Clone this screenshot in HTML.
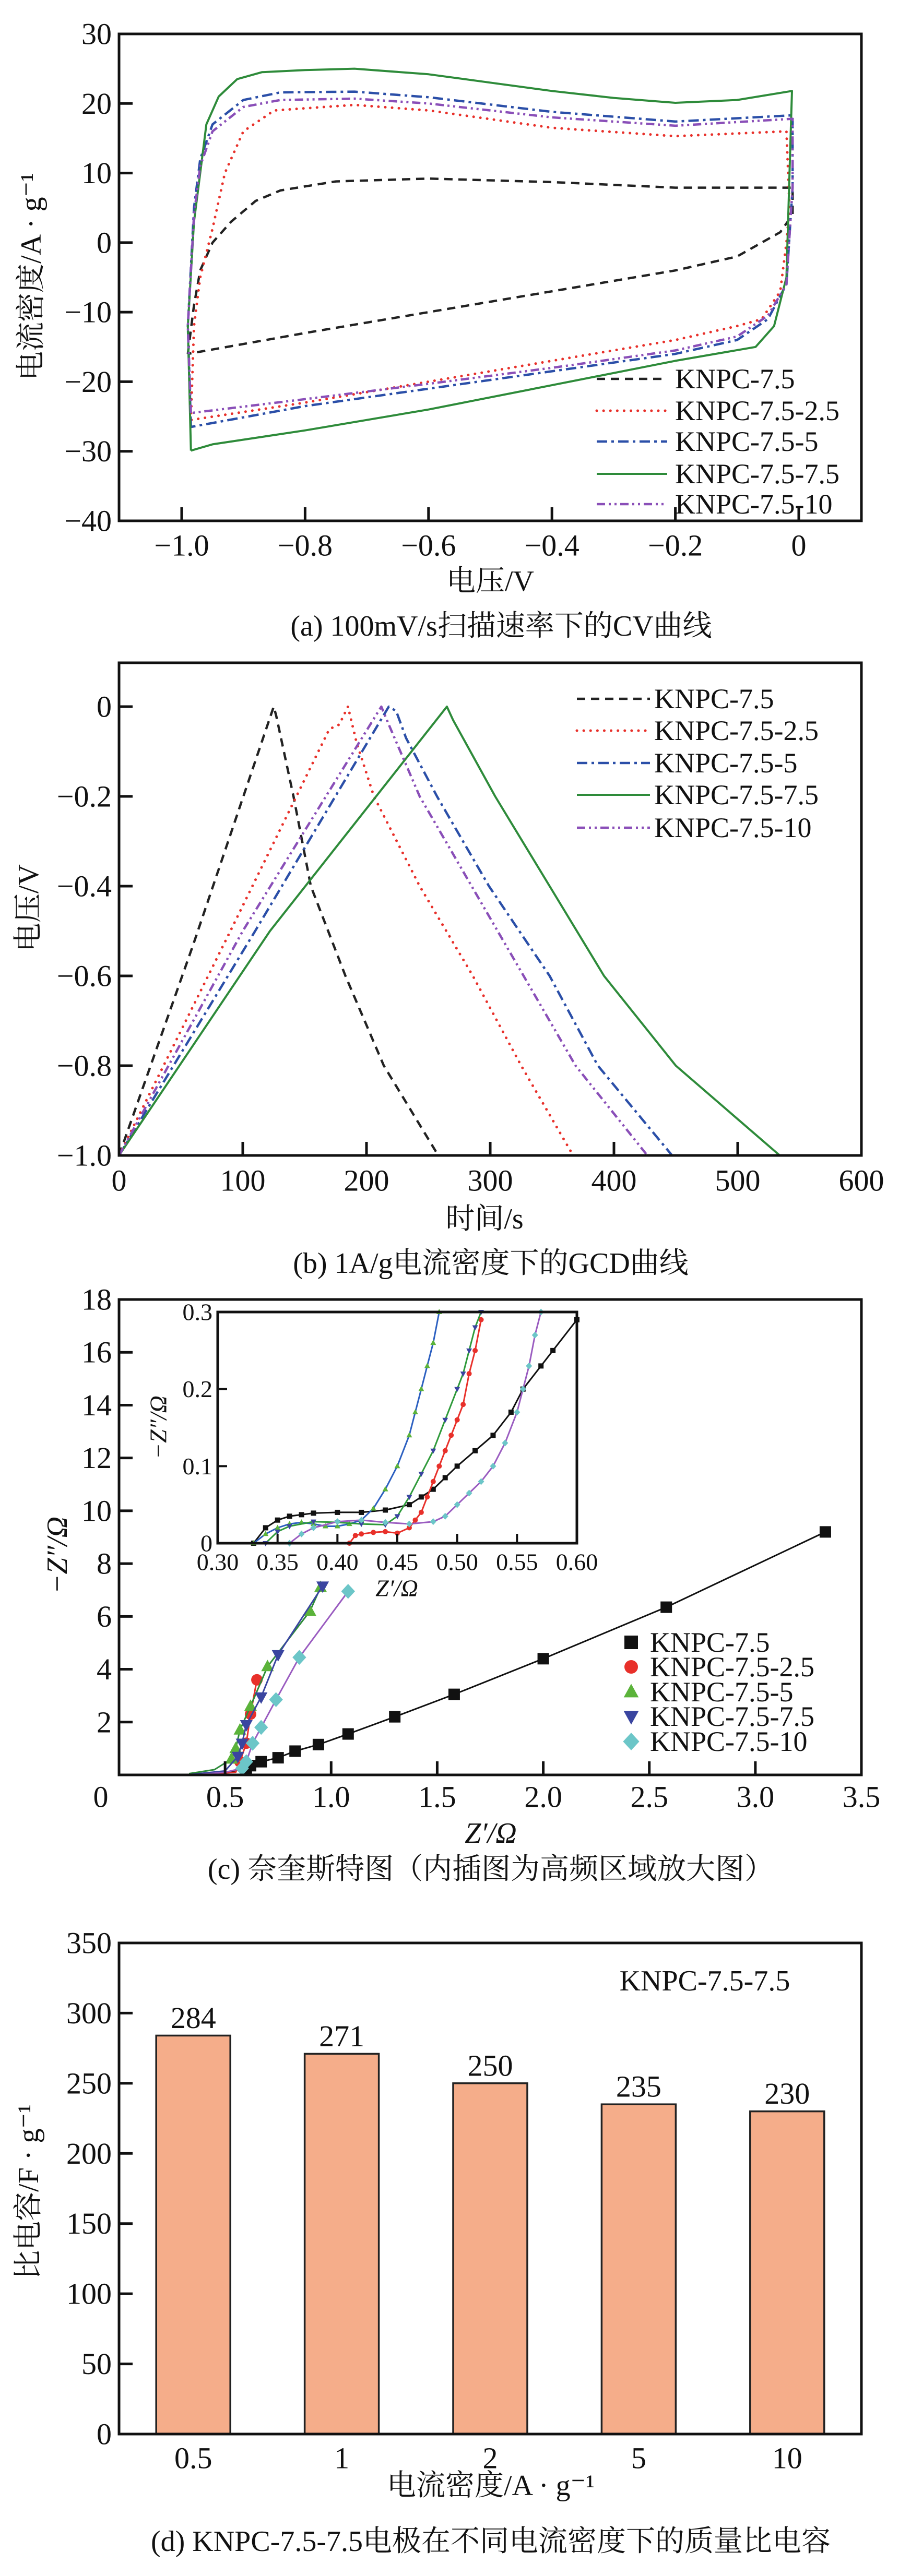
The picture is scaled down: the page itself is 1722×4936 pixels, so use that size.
<!DOCTYPE html>
<html><head><meta charset="utf-8">
<style>
html,body{margin:0;padding:0;background:#fff;}
svg{display:block;}
text{font-family:"Liberation Serif","Noto Serif CJK SC",serif;fill:#111;}
.cjk{font-family:"Liberation Serif","Noto Serif CJK SC","Noto Sans CJK SC",serif;}
</style></head>
<body>
<svg id="fig" xmlns="http://www.w3.org/2000/svg" width="1722" height="4936" viewBox="0 0 1722 4936">
<rect x="0" y="0" width="1722" height="4936" fill="#fff"/>
</svg>
<script>
// ---------- Panel (a) CV data ----------
const cvNames = ["KNPC-7.5","KNPC-7.5-2.5","KNPC-7.5-5","KNPC-7.5-7.5","KNPC-7.5-10"];
const cvBlack = [[-0.99,-16],[-0.98,-9],[-0.97,-4],[-0.95,0],[-0.92,3],[-0.88,6],[-0.84,7.5],[-0.75,8.8],[-0.6,9.2],[-0.4,8.7],[-0.2,7.9],[-0.01,7.9],[-0.01,4],[-0.03,1.5],[-0.1,-2],[-0.2,-4],[-0.4,-7],[-0.6,-10],[-0.8,-13],[-0.99,-16]];
const cvRed = [[-0.985,-25.5],[-0.98,-12],[-0.97,-5],[-0.95,2],[-0.93,10],[-0.9,16],[-0.85,19],[-0.72,19.8],[-0.6,19],[-0.4,16.5],[-0.2,15.3],[-0.02,16],[-0.015,5],[-0.02,0],[-0.03,-7],[-0.06,-11],[-0.1,-12],[-0.2,-14],[-0.4,-17],[-0.6,-20],[-0.8,-23],[-0.985,-25.5]];
const cvBlue = [[-0.985,-26.5],[-0.99,-12],[-0.98,5],[-0.97,12],[-0.95,17],[-0.9,20.5],[-0.84,21.6],[-0.72,21.7],[-0.6,20.9],[-0.4,18.8],[-0.2,17.4],[-0.01,18.3],[-0.01,8],[-0.02,-6],[-0.05,-11],[-0.1,-14],[-0.2,-16],[-0.4,-18.5],[-0.6,-21],[-0.8,-23.5],[-0.985,-26.5]];
const cvGreen = [[-0.985,-29.9],[-0.99,-12],[-0.98,3],[-0.97,10],[-0.96,17],[-0.94,21],[-0.91,23.5],[-0.87,24.5],[-0.8,24.8],[-0.72,25],[-0.6,24.2],[-0.5,23],[-0.4,21.8],[-0.3,20.8],[-0.2,20.1],[-0.1,20.5],[-0.011,21.8],[-0.015,10],[-0.02,-5],[-0.04,-12],[-0.07,-15],[-0.2,-17],[-0.4,-20.5],[-0.6,-24],[-0.8,-27],[-0.95,-29],[-0.985,-29.9]];
const cvPurple = [[-0.985,-24.5],[-0.99,-12],[-0.98,4],[-0.97,11],[-0.95,16],[-0.9,19.5],[-0.84,20.5],[-0.72,20.7],[-0.6,20],[-0.4,18],[-0.2,16.8],[-0.01,17.8],[-0.01,8],[-0.02,-6],[-0.05,-10.5],[-0.1,-13.5],[-0.2,-15.5],[-0.4,-18],[-0.6,-20.3],[-0.8,-22.5],[-0.985,-24.5]];
const cvXTicks = [-1.0,-0.8,-0.6,-0.4,-0.2,0];
const cvXTickLabels = ["\u22121.0","\u22120.8","\u22120.6","\u22120.4","\u22120.2","0"];
const cvYTicks = [30,20,10,0,-10,-20,-30,-40];
const cvYTickLabels = ["30","20","10","0","\u221210","\u221220","\u221230","\u221240"];

// ---------- Panel (b) GCD data ----------
const gcdBlack = [[0,-1],[60,-0.53],[125,0],[127,-0.02],[141,-0.2],[155,-0.4],[183,-0.6],[214,-0.8],[258,-1]];
const gcdRed = [[0,-1],[90,-0.5],[170,-0.05],[178,-0.04],[185,0],[192,-0.08],[206,-0.2],[243,-0.4],[286,-0.6],[325,-0.8],[367,-1]];
const gcdBlue = [[0,-1],[110,-0.5],[218,0],[224,-0.01],[232,-0.07],[257,-0.2],[299,-0.4],[348,-0.6],[387,-0.8],[447,-1]];
const gcdGreen = [[0,-1],[122,-0.5],[265,0],[270,-0.03],[304,-0.2],[348,-0.4],[392,-0.6],[450,-0.8],[534,-1]];
const gcdPurple = [[0,-1],[100,-0.5],[212,0],[218,-0.04],[243,-0.2],[285,-0.4],[327,-0.6],[369,-0.8],[427,-1]];
const gcdXTicks = [0,100,200,300,400,500,600];
const gcdYTicks = [0,-0.2,-0.4,-0.6,-0.8,-1.0];
const gcdYTickLabels = ["0","\u22120.2","\u22120.4","\u22120.6","\u22120.8","\u22121.0"];

// ---------- Panel (c) Nyquist data ----------
const nyBlack = [[0.33,0],[0.5,0.08],[0.6,0.25],[0.62,0.35],[0.67,0.5],[0.75,0.65],[0.83,0.9],[0.94,1.15],[1.08,1.55],[1.30,2.2],[1.58,3.05],[2.0,4.4],[2.58,6.35],[3.33,9.2]];
const nyRed = [[0.33,0],[0.45,0.05],[0.55,0.1],[0.57,0.5],[0.6,1.2],[0.62,2.3],[0.65,3.6]];
const nyGreen = [[0.33,0.05],[0.45,0.2],[0.53,0.6],[0.55,1.0],[0.57,1.7],[0.62,2.6],[0.7,4.1],[0.9,6.2],[0.95,7.1]];
const nyBlue = [[0.34,0.02],[0.5,0.15],[0.56,0.7],[0.58,1.2],[0.6,1.9],[0.67,2.95],[0.75,4.55],[0.96,7.15]];
const nyCyan = [[0.36,0],[0.5,0.1],[0.58,0.25],[0.6,0.5],[0.63,1.2],[0.67,1.8],[0.74,2.85],[0.85,4.45],[1.08,6.95]];
const nyXTicks = [0.5,1.0,1.5,2.0,2.5,3.0];
const nyXTickLabels = ["0","0.5","1.0","1.5","2.0","2.5","3.0","3.5"];
const nyYTicks = [2,4,6,8,10,12,14,16,18];
// inset
const inBlack = [[0.33,0],[0.34,0.02],[0.35,0.03],[0.36,0.035],[0.37,0.037],[0.38,0.039],[0.4,0.04],[0.42,0.04],[0.44,0.043],[0.46,0.05],[0.47,0.06],[0.48,0.07],[0.49,0.085],[0.5,0.1],[0.515,0.12],[0.53,0.14],[0.545,0.17],[0.555,0.2],[0.57,0.23],[0.58,0.25],[0.6,0.29]];
const inRed = [[0.41,0],[0.415,0.01],[0.42,0.012],[0.43,0.014],[0.44,0.015],[0.45,0.013],[0.46,0.02],[0.465,0.03],[0.47,0.04],[0.475,0.06],[0.48,0.08],[0.485,0.1],[0.49,0.12],[0.495,0.14],[0.5,0.16],[0.505,0.18],[0.51,0.22],[0.515,0.25],[0.52,0.29]];
const inGreen = [[0.33,0],[0.34,0.012],[0.35,0.02],[0.36,0.025],[0.37,0.027],[0.38,0.025],[0.39,0.022],[0.4,0.022],[0.41,0.025],[0.42,0.03],[0.43,0.045],[0.44,0.07],[0.45,0.1],[0.46,0.14],[0.465,0.17],[0.47,0.2],[0.475,0.23],[0.48,0.26],[0.485,0.3]];
const inBlue = [[0.34,0],[0.35,0.015],[0.36,0.022],[0.38,0.028],[0.4,0.027],[0.42,0.025],[0.44,0.024],[0.45,0.035],[0.46,0.06],[0.47,0.09],[0.48,0.12],[0.49,0.16],[0.5,0.2],[0.505,0.22],[0.51,0.25],[0.515,0.28],[0.52,0.3]];
const inCyan = [[0.36,0],[0.37,0.012],[0.38,0.02],[0.4,0.028],[0.42,0.03],[0.44,0.027],[0.46,0.025],[0.48,0.028],[0.49,0.035],[0.5,0.05],[0.51,0.065],[0.52,0.08],[0.53,0.1],[0.54,0.13],[0.55,0.17],[0.555,0.2],[0.56,0.23],[0.565,0.27],[0.57,0.3]];
const inXTicks = [0.30,0.35,0.40,0.45,0.50,0.55,0.60];
const inXTickLabels = ["0.30","0.35","0.40","0.45","0.50","0.55","0.60"];
const inYTicks = [0,0.1,0.2,0.3];
const inYTickLabels = ["0","0.1","0.2","0.3"];

// ---------- Panel (d) bar data ----------
const barCats = ["0.5","1","2","5","10"];
const barVals = [284,271,250,235,230];
const barYTicks = [0,50,100,150,200,250,300,350];

const NS = "http://www.w3.org/2000/svg";
const svg = document.getElementById("fig");
function mk(tag, attrs, name, parent){
  const e = document.createElementNS(NS, tag);
  for (const k in attrs) e.setAttribute(k, attrs[k]);
  
  
  (parent || svg).appendChild(e);
  return e;
}
function txt(x,y,s,size,name,anchor,extra){
  const a = Object.assign({x:x,y:y,'font-size':size,'text-anchor':anchor||'middle','dominant-baseline':'central'}, extra||{});
  const t = mk('text', a, name);
  t.textContent = s;
  return t;
}
function path(pts, sx, sy, style, name){
  const d = pts.map((p,i)=>(i?'L':'M')+sx(p[0]).toFixed(1)+' '+sy(p[1]).toFixed(1)).join(' ');
  return mk('path', Object.assign({d:d, fill:'none', 'stroke-linejoin':'round'}, style), name);
}
function box(l,t,r,b,name){
  mk('rect',{x:l,y:t,width:r-l,height:b-t,fill:'none',stroke:'#111','stroke-width':5},name);
}
const ST = {
  black:{stroke:'#222','stroke-width':4.5,'stroke-dasharray':'16 11'},
  red:{stroke:'#e8302a','stroke-width':5,'stroke-dasharray':'0.1 13','stroke-linecap':'round'},
  blue:{stroke:'#2b4fa8','stroke-width':4.5,'stroke-dasharray':'20 8 5 8'},
  green:{stroke:'#2e8b3a','stroke-width':4},
  purple:{stroke:'#8a4fb8','stroke-width':4.5,'stroke-dasharray':'16 7 4 7 4 7'}
};
const styleOrder = ['black','red','blue','green','purple'];

// ================= Panel (a) =================
(function(){
  const L=228,R=1650,T=65,B=998;
  const sx = v => 1530 + v*1182;
  const sy = v => T + (30 - v)*(B-T)/70;
  [cvBlack,cvRed,cvBlue,cvGreen,cvPurple].forEach((s,i)=>{
    path(s, sx, sy, ST[styleOrder[i]], 'cv-curve-'+cvNames[i].toLowerCase());
  });
  box(L,T,R,B,'cv-plot-frame');
  cvYTicks.forEach((v,i)=>{
    mk('line',{x1:L,x2:L+26,y1:sy(v),y2:sy(v),stroke:'#111','stroke-width':5},'cv-y-tick');
    txt(L-14, sy(v), cvYTickLabels[i], 58, 'cv-y-tick-label','end');
  });
  cvXTicks.forEach((v,i)=>{
    mk('line',{x1:sx(v),x2:sx(v),y1:B,y2:B-26,stroke:'#111','stroke-width':5},'cv-x-tick');
    txt(sx(v), 1045, cvXTickLabels[i], 58, 'cv-x-tick-label');
  });
  txt(60, 530, '电流密度/A · g⁻¹', 56, 'cv-y-axis-title','middle',{transform:'rotate(-90 60 530)',class:'cjk'});
  txt(939, 1114, '电压/V', 56, 'cv-x-axis-title','middle',{class:'cjk'});
  txt(960, 1200, '(a) 100mV/s扫描速率下的CV曲线', 56, 'cv-caption','middle',{class:'cjk'});
  const ly=[726,787,846,908,966];
  cvNames.forEach((n,i)=>{
    mk('line',{x1:1143,x2:1278,y1:ly[i],y2:ly[i]},'cv-legend-swatch');
    const ln = svg.lastChild; for(const k in ST[styleOrder[i]]) ln.setAttribute(k, ST[styleOrder[i]][k]);
    txt(1293, ly[i], n, 54, 'cv-legend-entry','start');
  });
})();

// ================= Panel (b) =================
(function(){
  const L=228,R=1650,T=1270,B=2214;
  const sx = v => L + v/600*(R-L);
  const sy = v => 1354 - v*860;
  [gcdBlack,gcdRed,gcdBlue,gcdGreen,gcdPurple].forEach((s,i)=>{
    path(s, sx, sy, ST[styleOrder[i]], 'gcd-curve-'+cvNames[i].toLowerCase());
  });
  box(L,T,R,B,'gcd-plot-frame');
  gcdYTicks.forEach((v,i)=>{
    mk('line',{x1:L,x2:L+26,y1:sy(v),y2:sy(v),stroke:'#111','stroke-width':5},'gcd-y-tick');
    txt(L-14, sy(v), gcdYTickLabels[i], 58, 'gcd-y-tick-label','end');
  });
  gcdXTicks.forEach((v,i)=>{
    mk('line',{x1:sx(v),x2:sx(v),y1:B,y2:B-26,stroke:'#111','stroke-width':5},'gcd-x-tick');
    txt(sx(v), 2262, String(v), 58, 'gcd-x-tick-label');
  });
  txt(55, 1740, '电压/V', 56, 'gcd-y-axis-title','middle',{transform:'rotate(-90 55 1740)',class:'cjk'});
  txt(928, 2336, '时间/s', 56, 'gcd-x-axis-title','middle',{class:'cjk'});
  txt(940, 2421, '(b) 1A/g电流密度下的GCD曲线', 56, 'gcd-caption','middle',{class:'cjk'});
  const ly=[1339,1400,1462,1523,1586];
  cvNames.forEach((n,i)=>{
    mk('line',{x1:1105,x2:1245,y1:ly[i],y2:ly[i]},'gcd-legend-swatch');
    const ln = svg.lastChild; for(const k in ST[styleOrder[i]]) ln.setAttribute(k, ST[styleOrder[i]][k]);
    txt(1253, ly[i], n, 54, 'gcd-legend-entry','start');
  });
})();

// ================= Panel (c) =================
function marker(kind, x, y, r, color, name){
  if(kind==='sq') return mk('rect',{x:x-r,y:y-r,width:2*r,height:2*r,fill:color},name);
  if(kind==='ci') return mk('circle',{cx:x,cy:y,r:r,fill:color},name);
  if(kind==='up') return mk('polygon',{points:`${x},${y-r*1.2} ${x-r*1.1},${y+r*0.8} ${x+r*1.1},${y+r*0.8}`,fill:color},name);
  if(kind==='dn') return mk('polygon',{points:`${x},${y+r*1.2} ${x-r*1.1},${y-r*0.8} ${x+r*1.1},${y-r*0.8}`,fill:color},name);
  return mk('polygon',{points:`${x},${y-r*1.3} ${x+r*1.2},${y} ${x},${y+r*1.3} ${x-r*1.2},${y}`,fill:color},name);
}
(function(){
  const L=228,R=1650,T=2490,B=3401;
  const sx = v => L + v/3.5*(R-L);
  const sy = v => B - v/18*(B-T);
  const kinds=['sq','ci','up','dn','di'];
  const mcol=['#111','#e8302a','#5bb33a','#3a45a0','#6cc6c8'];
  const lcol=['#111','#e8302a','#2e8b3a','#3a45a0','#9a5cc0'];
  [nyBlack,nyRed,nyGreen,nyBlue,nyCyan].forEach((s,i)=>{
    path(s, sx, sy, {stroke:lcol[i],'stroke-width':3}, 'nyquist-curve-'+cvNames[i].toLowerCase());
    s.forEach(p=>{ if(p[1]>0.2) marker(kinds[i], sx(p[0]), sy(p[1]), 11, mcol[i], 'nyquist-point'); });
  });
  box(L,T,R,B,'nyquist-plot-frame');
  nyYTicks.forEach(v=>{
    mk('line',{x1:L,x2:L+26,y1:sy(v),y2:sy(v),stroke:'#111','stroke-width':5},'nyquist-y-tick');
    txt(L-14, sy(v), String(v), 58, 'nyquist-y-tick-label','end');
  });
  nyXTicks.forEach(v=>{
    mk('line',{x1:sx(v),x2:sx(v),y1:B,y2:B-26,stroke:'#111','stroke-width':5},'nyquist-x-tick');
  });
  nyXTickLabels.forEach((s,i)=>{
    const xv = i*0.5; const xx = i===0 ? 193 : sx(xv);
    txt(xx, 3443, s, 58, 'nyquist-x-tick-label');
  });
  txt(110, 2980, '−Z″/Ω', 56, 'nyquist-y-axis-title','middle',{transform:'rotate(-90 110 2980)','font-style':'italic'});
  txt(940, 3513, 'Z′/Ω', 56, 'nyquist-x-axis-title','middle',{'font-style':'italic'});
  txt(940, 3582, '(c) 奈奎斯特图（内插图为高频区域放大图）', 56, 'nyquist-caption','middle',{class:'cjk'});
  const ly=[3147,3194,3242,3289,3337];
  cvNames.forEach((n,i)=>{
    marker(kinds[i], 1209, ly[i], 13, mcol[i], 'nyquist-legend-marker');
    txt(1245, ly[i], n, 54, 'nyquist-legend-entry','start');
  });
  // inset
  const iL=417,iR=1105,iT=2514,iB=2957;
  mk('rect',{x:iL,y:iT,width:iR-iL,height:iB-iT,fill:'#fff'},'inset-background');
  const ix = v => iL + (v-0.3)/0.3*(iR-iL);
  const iy = v => iB - v/0.3*(iB-iT);
  const clipId='insetclip';
  const cp = mk('clipPath',{id:clipId},'inset-clip');
  mk('rect',{x:iL,y:iT,width:iR-iL,height:iB-iT},'inset-clip-rect',cp);
  const icol=['#111','#e8302a','#2b5fc0','#2e9a3a','#9a5cc0'];
  const ikind=['sq','ci','up','dn','di'];
  const imcol=['#111','#e8302a','#5bb33a','#3a45a0','#6cc6c8'];
  [inBlack,inRed,inGreen,inBlue,inCyan].forEach((s,i)=>{
    const p = path(s, ix, iy, {stroke:icol[i],'stroke-width':3}, 'inset-curve-'+cvNames[i].toLowerCase());
    p.setAttribute('clip-path','url(#'+clipId+')');
    s.forEach(q=>marker(ikind[i], ix(q[0]), iy(q[1]), 5, imcol[i], 'inset-point'));
  });
  box(iL,iT,iR,iB,'inset-frame');
  inXTicks.forEach((v,i)=>{
    mk('line',{x1:ix(v),x2:ix(v),y1:iB,y2:iB-18,stroke:'#111','stroke-width':4},'inset-x-tick');
    txt(ix(v), 2993, inXTickLabels[i], 46, 'inset-x-tick-label');
  });
  inYTicks.forEach((v,i)=>{
    mk('line',{x1:iL,x2:iL+18,y1:iy(v),y2:iy(v),stroke:'#111','stroke-width':4},'inset-y-tick');
    txt(iL-10, iy(v), inYTickLabels[i], 46, 'inset-y-tick-label','end');
  });
  txt(760, 3043, 'Z′/Ω', 46, 'inset-x-axis-title','middle',{'font-style':'italic'});
  txt(303, 2735, '−Z″/Ω', 46, 'inset-y-axis-title','middle',{transform:'rotate(-90 303 2735)','font-style':'italic'});
})();

// ================= Panel (d) =================
(function(){
  const L=228,R=1650,T=3723,B=4664;
  const sy = v => B - v/350*(B-T);
  const step=(R-L)/5;
  const cx = i => L + step*(i+0.5);
  barCats.forEach((c,i)=>{
    const x = cx(i) - 71;
    mk('rect',{x:x,y:sy(barVals[i]),width:142,height:B-sy(barVals[i]),fill:'#f5ad8a',stroke:'#222','stroke-width':3.5},'bar-'+c);
    txt(cx(i), sy(barVals[i])-34, String(barVals[i]), 58, 'bar-value-label');
    txt(cx(i), 4710, c, 58, 'bar-x-tick-label');
  });
  box(L,T,R,B,'bar-plot-frame');
  barYTicks.forEach(v=>{
    mk('line',{x1:L,x2:L+26,y1:sy(v),y2:sy(v),stroke:'#111','stroke-width':5},'bar-y-tick');
    txt(L-14, sy(v), String(v), 58, 'bar-y-tick-label','end');
  });
  txt(1350, 3796, 'KNPC-7.5-7.5', 56, 'bar-sample-label');
  txt(55, 4200, '比电容/F · g⁻¹', 56, 'bar-y-axis-title','middle',{transform:'rotate(-90 55 4200)',class:'cjk'});
  txt(940, 4763, '电流密度/A · g⁻¹', 56, 'bar-x-axis-title','middle',{class:'cjk'});
  txt(940, 4870, '(d) KNPC-7.5-7.5电极在不同电流密度下的质量比电容', 56, 'bar-caption','middle',{class:'cjk'});
})();
</script>
</body></html>
